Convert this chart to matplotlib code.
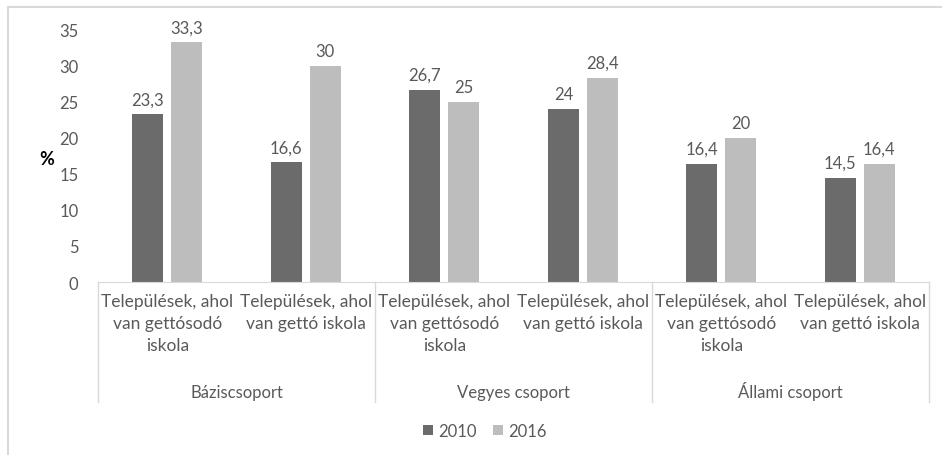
import matplotlib
matplotlib.use('Agg')
import matplotlib.pyplot as plt
from matplotlib.lines import Line2D
import numpy as np

# Adatok
groups = ['Báziscsoport', 'Vegyes csoport', 'Állami csoport']
categories = ['Települések, ahol\nvan gettósodó\niskola',
              'Települések, ahol\nvan gettó iskola'] * 3
series_names = ['2010', '2016']
values_2010 = [23.3, 16.6, 26.7, 24.0, 16.4, 14.5]
values_2016 = [33.3, 30.0, 25.0, 28.4, 20.0, 16.4]
y_ticks = [0, 5, 10, 15, 20, 25, 30, 35]

colors = ['#6b6b6b', '#bdbdbd']
text_col = '#595959'

plt.rcParams['font.family'] = ['Lato', 'DejaVu Sans']

fig = plt.figure(figsize=(9.42, 4.56), dpi=100)
ax = fig.add_axes([98 / 942, 1 - 283 / 456, 831 / 942, 252 / 456])

x = np.arange(len(categories))
w = 0.225
gap = 0.055
b1 = ax.bar(x - (w + gap) / 2, values_2010, w, color=colors[0], label=series_names[0])
b2 = ax.bar(x + (w + gap) / 2, values_2016, w, color=colors[1], label=series_names[1])

# Értékcímkék
for bars in (b1, b2):
    for r in bars:
        v = r.get_height()
        s = f"{v:.1f}".replace('.', ',')
        if s.endswith(',0'):
            s = s[:-2]
        ax.annotate(s, (r.get_x() + r.get_width() / 2, v), xytext=(0, 5),
                    textcoords='offset points', ha='center', va='bottom',
                    fontsize=12, color=text_col)

ax.set_xlim(-0.5, len(categories) - 0.5)
ax.set_ylim(0, 35)
ax.set_yticks(y_ticks)
ax.tick_params(axis='y', length=0, labelsize=12, labelcolor=text_col, pad=14)
ax.set_xticks(x)
ax.set_xticklabels(categories, fontsize=12.5, color=text_col, linespacing=1.45)
ax.tick_params(axis='x', length=0, pad=8)

for sp in ['top', 'right', 'left']:
    ax.spines[sp].set_visible(False)
ax.spines['bottom'].set_color('#d9d9d9')

# Csoport elválasztók és csoportnevek
trans = ax.get_xaxis_transform()
for b in [-0.5, 1.5, 3.5, 5.5]:
    ax.add_line(Line2D([b, b], [0, -120 / 252], transform=trans, color='#d9d9d9',
                       lw=1, clip_on=False))
for i, g in enumerate(groups):
    ax.text(2 * i + 0.5, -(398 - 283) / 252, g, transform=trans, ha='center',
            va='baseline', fontsize=12, color=text_col)

fig.text(39 / 942, 1 - 160 / 456, '%', ha='left', va='center', fontsize=13,
         fontweight='bold', color='black')

fig.legend(loc='center', bbox_to_anchor=(485 / 942, 1 - 432 / 456), ncol=2,
           frameon=False, fontsize=12, labelcolor=text_col, handlelength=0.6,
           handleheight=0.6, handletextpad=0.3, columnspacing=1.0)

# Külső keret (felül és bal oldalon látszik)
fig.add_artist(Line2D([8 / 942, 1], [1 - 8 / 456] * 2, transform=fig.transFigure,
                      color='#d9d9d9', lw=1.5))
fig.add_artist(Line2D([8 / 942] * 2, [0, 1 - 8 / 456], transform=fig.transFigure,
                      color='#d9d9d9', lw=1.5))

fig.savefig('out.png', dpi=100)
plt.close(fig)
